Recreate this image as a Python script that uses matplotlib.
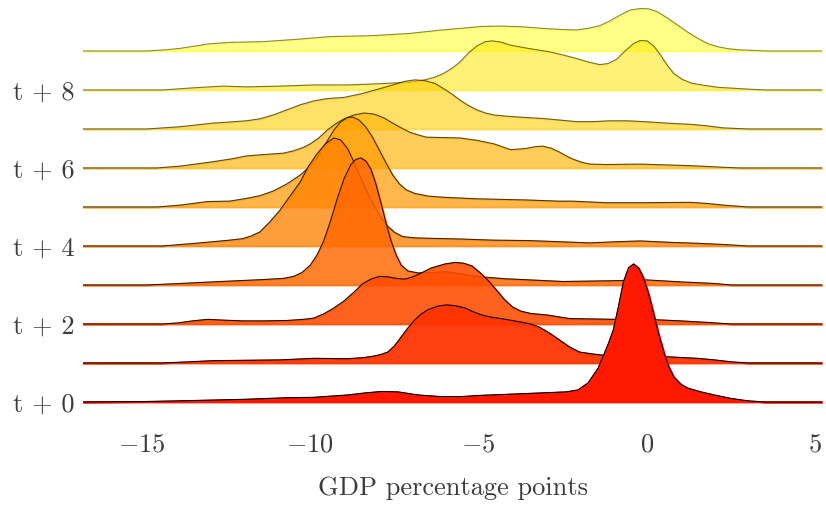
import matplotlib
matplotlib.use("Agg")
import matplotlib.pyplot as plt

# Density of GDP deviations at each horizon
x_t0 = [-16.75, -15.0, -13.9, -11.9, -10.7, -9.9, -8.9, -8.4, -7.9, -7.4, -6.8, -6.15, -5.5, -4.95, -3.5,
        -2.4, -2.05, -1.75, -1.45, -1.15, -1.0, -0.85, -0.7, -0.55, -0.4, -0.25, -0.1, 0.05, 0.2, 0.35,
        0.5, 0.65, 0.8, 1.0, 1.2, 1.6, 2.0, 2.5, 3.0, 3.5, 5.2]
d_t0 = [0, 0.001, 0.003, 0.007, 0.011, 0.012, 0.018, 0.023, 0.027, 0.026, 0.018, 0.014, 0.014, 0.017, 0.022,
        0.026, 0.031, 0.049, 0.087, 0.149, 0.185, 0.244, 0.308, 0.344, 0.354, 0.344, 0.318, 0.277, 0.226, 0.174,
        0.128, 0.090, 0.064, 0.046, 0.036, 0.026, 0.018, 0.009, 0.003, 0, 0]

x_t1 = [-16.75, -14.4, -13.6, -12.9, -10.9, -9.9, -8.9, -8.4, -8.1, -7.9, -7.7, -7.5, -7.3, -7.1, -6.9,
        -6.7, -6.5, -6.2, -5.95, -5.7, -5.4, -5.15, -4.9, -4.65, -4.2, -3.75, -3.45, -3.2, -2.9, -2.6,
        -2.3, -2.0, -1.6, -1.0, 0.6, 1.5, 2.0, 2.5, 3.0, 5.2]
d_t1 = [0, 0, 0.003, 0.006, 0.008, 0.012, 0.011, 0.014, 0.018, 0.022, 0.028, 0.044, 0.067, 0.090, 0.110,
        0.126, 0.137, 0.146, 0.149, 0.147, 0.141, 0.131, 0.123, 0.118, 0.112, 0.105, 0.100, 0.092, 0.077, 0.059,
        0.041, 0.028, 0.023, 0.017, 0.016, 0.012, 0.008, 0.003, 0, 0]

x_t2 = [-16.75, -14.4, -13.9, -13.5, -13.05, -12.6, -12.0, -11.4, -10.7, -10.2, -9.9, -9.6, -9.3, -9.0,
        -8.7, -8.45, -8.2, -7.95, -7.7, -7.45, -7.2, -6.95, -6.7, -6.4, -6.0, -5.7, -5.45, -5.2, -4.95,
        -4.7, -4.45, -4.25, -4.0, -3.75, -3.45, -2.95, -2.6, -2.3, -1.0, 0.0, 1.0, 1.8, 2.5, 5.2]
d_t2 = [0, 0, 0.003, 0.008, 0.012, 0.010, 0.008, 0.008, 0.009, 0.012, 0.015, 0.026, 0.041, 0.059,
        0.082, 0.103, 0.115, 0.122, 0.121, 0.117, 0.115, 0.121, 0.131, 0.144, 0.154, 0.158, 0.156, 0.149, 0.131,
        0.110, 0.085, 0.064, 0.044, 0.033, 0.027, 0.023, 0.018, 0.014, 0.012, 0.012, 0.008, 0.004, 0, 0]

x_t3 = [-16.75, -14.85, -13.85, -12.9, -11.4, -10.8, -10.5, -10.25, -10.0, -9.8, -9.6, -9.4, -9.2, -9.0,
        -8.8, -8.65, -8.5, -8.35, -8.2, -8.05, -7.9, -7.75, -7.6, -7.45, -7.3, -7.1, -6.8, -6.4, -5.95,
        -5.5, -4.95, -4.2, -3.45, -2.5, -1.0, 0.0, 1.0, 2.0, 2.5, 5.2]
d_t3 = [0, 0, 0.004, 0.008, 0.014, 0.017, 0.022, 0.032, 0.051, 0.077, 0.113, 0.164, 0.221, 0.272,
        0.308, 0.322, 0.326, 0.318, 0.297, 0.259, 0.210, 0.159, 0.113, 0.077, 0.051, 0.036, 0.031, 0.032, 0.034,
        0.028, 0.021, 0.016, 0.013, 0.009, 0.011, 0.013, 0.008, 0.004, 0, 0]

x_t4 = [-16.75, -14.4, -13.4, -12.9, -12.4, -12.0, -11.75, -11.5, -11.2, -10.9, -10.6, -10.3, -10.05, -9.8,
        -9.55, -9.3, -9.1, -8.9, -8.7, -8.5, -8.3, -8.1, -7.9, -7.7, -7.5, -7.25, -6.9, -6.55, -5.55,
        -4.55, -3.55, -2.6, -1.7, -0.9, -0.2, 0.8, 1.5, 2.25, 3.0, 5.2]
d_t4 = [0, 0, 0.007, 0.011, 0.015, 0.019, 0.026, 0.036, 0.062, 0.092, 0.128, 0.164, 0.205, 0.236,
        0.262, 0.277, 0.272, 0.251, 0.215, 0.174, 0.136, 0.103, 0.074, 0.051, 0.035, 0.024, 0.021, 0.020, 0.018,
        0.015, 0.014, 0.011, 0.008, 0.011, 0.013, 0.009, 0.007, 0.004, 0, 0]

x_t5 = [-16.75, -14.55, -13.85, -13.05, -12.4, -11.9, -11.5, -11.1, -10.7, -10.3, -10.0, -9.75, -9.5, -9.3,
        -9.1, -8.9, -8.75, -8.55, -8.35, -8.15, -7.95, -7.75, -7.55, -7.35, -7.15, -6.9, -6.5, -6.05, -5.05,
        -3.55, -2.6, -2.2, -1.2, -0.2, 1.3, 1.8, 2.25, 3.0, 5.2]
d_t5 = [0, 0, 0.005, 0.014, 0.015, 0.022, 0.029, 0.041, 0.059, 0.082, 0.105, 0.133, 0.169, 0.197,
        0.218, 0.229, 0.231, 0.223, 0.205, 0.179, 0.146, 0.113, 0.082, 0.059, 0.044, 0.035, 0.028, 0.025, 0.021,
        0.018, 0.015, 0.015, 0.011, 0.011, 0.012, 0.009, 0.005, 0, 0]

x_t6 = [-16.75, -14.55, -13.85, -12.9, -12.3, -11.9, -11.3, -10.8, -10.5, -10.2, -10.0, -9.75, -9.5, -9.25,
        -9.0, -8.7, -8.4, -8.1, -7.8, -7.55, -7.3, -7.05, -6.8, -6.55, -6.0, -5.55, -5.05, -4.55, -4.05,
        -3.6, -3.3, -3.1, -2.85, -2.6, -2.4, -2.2, -1.95, -1.7, -1.2, -0.2, 1.3, 2.25, 2.75, 5.2]
d_t6 = [0, 0, 0.005, 0.016, 0.024, 0.031, 0.035, 0.038, 0.044, 0.053, 0.062, 0.077, 0.097, 0.113,
        0.126, 0.136, 0.141, 0.138, 0.128, 0.115, 0.103, 0.092, 0.085, 0.079, 0.078, 0.077, 0.071, 0.062, 0.047,
        0.050, 0.055, 0.056, 0.051, 0.041, 0.031, 0.023, 0.015, 0.010, 0.009, 0.010, 0.006, 0.002, 0, 0]

x_t7 = [-16.75, -14.85, -13.85, -12.9, -11.9, -11.5, -11.1, -10.7, -10.3, -9.9, -9.5, -9.0, -8.5, -7.95,
        -7.55, -7.2, -6.9, -6.6, -6.3, -6.05, -5.8, -5.55, -5.3, -5.05, -4.8, -4.55, -4.05, -3.1, -2.6,
        -2.1, -1.6, -1.1, -0.6, -0.1, 0.6, 1.3, 1.8, 2.25, 3.0, 5.2]
d_t7 = [0, 0, 0.006, 0.015, 0.021, 0.026, 0.036, 0.049, 0.062, 0.072, 0.078, 0.081, 0.090, 0.103,
        0.113, 0.122, 0.126, 0.124, 0.117, 0.104, 0.090, 0.074, 0.060, 0.049, 0.041, 0.036, 0.032, 0.027, 0.023,
        0.019, 0.019, 0.021, 0.021, 0.019, 0.015, 0.012, 0.008, 0.003, 0, 0]

x_t8 = [-16.75, -14.4, -13.4, -12.6, -11.9, -10.9, -9.9, -8.9, -8.25, -7.05, -6.6, -6.3, -6.05, -5.8,
        -5.55, -5.3, -5.05, -4.8, -4.6, -4.35, -4.05, -3.55, -2.9, -2.5, -2.1, -1.75, -1.4, -1.15, -0.9,
        -0.65, -0.4, -0.2, 0.0, 0.2, 0.4, 0.6, 0.8, 1.05, 1.35, 1.7, 2.1, 3.05, 3.55, 5.2]
d_t8 = [0, 0, 0.006, 0.010, 0.008, 0.010, 0.013, 0.013, 0.015, 0.020, 0.026, 0.033, 0.042, 0.055,
        0.072, 0.095, 0.113, 0.124, 0.126, 0.123, 0.115, 0.107, 0.098, 0.090, 0.081, 0.072, 0.065, 0.068, 0.079,
        0.100, 0.119, 0.127, 0.126, 0.113, 0.090, 0.064, 0.042, 0.027, 0.017, 0.012, 0.007, 0.002, 0, 0]

x_t9 = [-16.75, -14.85, -14.3, -13.85, -13.4, -13.05, -12.4, -11.4, -10.4, -9.4, -8.25, -7.05, -6.2, -5.55,
        -4.9, -4.35, -3.7, -3.1, -2.5, -2.1, -1.75, -1.4, -1.1, -0.8, -0.5, -0.2, 0.05, 0.3, 0.6,
        0.9, 1.2, 1.5, 1.8, 2.1, 2.4, 2.75, 3.55, 5.2]
d_t9 = [0, 0, 0.003, 0.007, 0.013, 0.018, 0.022, 0.024, 0.030, 0.037, 0.039, 0.045, 0.053, 0.058,
        0.063, 0.064, 0.062, 0.058, 0.055, 0.054, 0.058, 0.065, 0.077, 0.092, 0.105, 0.109, 0.108, 0.101, 0.085,
        0.067, 0.049, 0.033, 0.019, 0.011, 0.006, 0.003, 0, 0]

horizons = ["t + 0", "t + 1", "t + 2", "t + 3", "t + 4", "t + 5", "t + 6", "t + 7", "t + 8", "t + 9"]
xs = [x_t0, x_t1, x_t2, x_t3, x_t4, x_t5, x_t6, x_t7, x_t8, x_t9]
ds = [d_t0, d_t1, d_t2, d_t3, d_t4, d_t5, d_t6, d_t7, d_t8, d_t9]
xticks = [-15, -10, -5, 0, 5]

plt.rcParams['font.family'] = 'serif'
plt.rcParams['font.serif'] = ['cmr10']
plt.rcParams['mathtext.fontset'] = 'cm'
text_color = '#3c3c3c'

fig = plt.figure(figsize=(8.26, 5.08), dpi=100)
ax = fig.add_axes([83 / 826, 104 / 508, 739 / 826, 404 / 508])

step = 0.1  # vertical offset between ridges
cmap = plt.cm.autumn
n = len(horizons)
# top ridge first so lower ridges sit in front
for i in reversed(range(n)):
    frac = i / (n - 1)
    color = cmap(0.1 + 0.9 * frac)
    alpha = 1 - 0.059 * i
    base = i * step
    top = [base + v for v in ds[i]]
    ax.fill_between(xs[i], base, top, facecolor=color, edgecolor=color,
                    linewidth=1.3, alpha=alpha, zorder=2 * (n - i))
    ax.plot(xs[i], top, color='k', linewidth=0.8, alpha=alpha,
            solid_joinstyle='round', zorder=2 * (n - i) + 1)

ax.set_xlim(-16.75, 5.2)
ax.set_ylim(-2 / 390, 402 / 390)

ax.set_yticks([i * step for i in range(0, n, 2)])
ax.set_yticklabels(horizons[::2])
ax.set_xticks(xticks)
ax.set_xticklabels([rf'${t}$' for t in xticks])
ax.tick_params(axis='y', length=0, pad=6, labelsize=19, labelcolor=text_color)
ax.tick_params(axis='x', length=0, pad=21, labelsize=19, labelcolor=text_color)
ax.set_xlabel('GDP percentage points', fontsize=19, color=text_color, labelpad=14)

for s in ax.spines.values():
    s.set_visible(False)

fig.savefig('out.png', dpi=100)
